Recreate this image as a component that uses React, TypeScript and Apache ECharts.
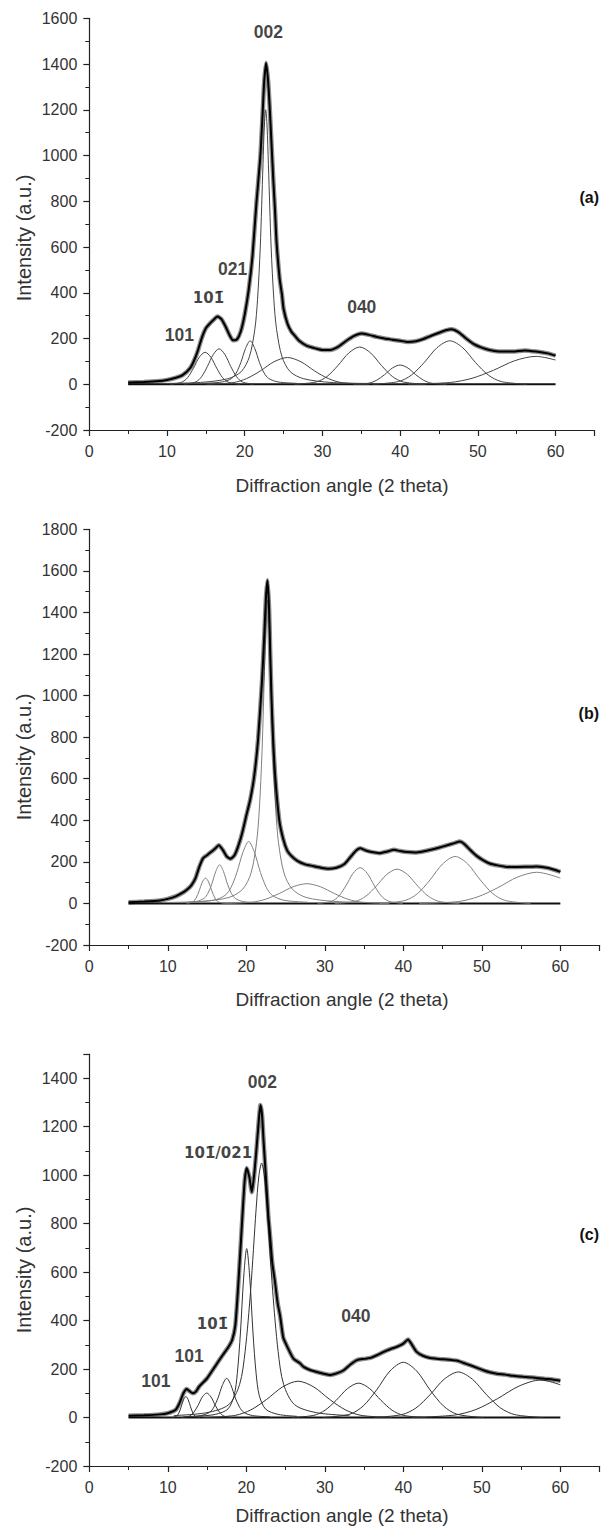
import React, { useEffect, useRef } from "react";
import * as echarts from "echarts";

type P = [number, number];

const FONT = "'Liberation Sans', Arial, Helvetica, sans-serif";
const MARK_FONT = "'DejaVu Sans', 'Liberation Sans', sans-serif";

// ---------- axes ----------
const X_MIN = 0;
const X_MAX = 65;
const X_STEP = 10;
const Y_MIN = -200;
const Y_STEP = 200;
const Y_MAX = [1600, 1800, 1500];
const X_TITLE = "Diffraction angle (2 theta)";
const Y_TITLE = "Intensity (a.u.)";
const PANEL_TAGS = ["(a)", "(b)", "(c)"];

// ---------- panel (a) ----------
const obsA: P[] = [[5,8],[7,10],[9,14],[10,19],[11,27],[12,40],[13,72],[13.5,105],[14,150],[14.5,205],[15,245],[15.5,265],[16,282],[16.5,296],[17,285],[17.5,255],[18,218],[18.5,192],[19,196],[19.5,232],[20,305],[20.5,410],[21,560],[21.5,790],[22,990],[22.3,1180],[22.5,1320],[22.75,1405],[23,1330],[23.2,1220],[23.45,1050],[23.7,880],[23.9,760],[24.1,620],[24.5,460],[24.8,390],[25,330],[25.5,265],[26,230],[26.5,210],[27,190],[28,168],[29,158],[30,150],[31,150],[32,163],[33,188],[34,210],[35,222],[36,216],[37,207],[38,200],[39,195],[40,190],[41,185],[42,188],[43,198],[44,212],[45,225],[46,237],[46.6,240],[47.5,228],[48.5,200],[49.5,175],[50.5,160],[51.5,150],[53,143],[54.5,143],[56,148],[57.5,143],[59,135],[60,125]];
const peaksA: P[][] = [
  [[10.4,0],[11.9,9],[12.65,29],[13.4,70],[14.15,118],[14.9,140],[15.65,118],[16.4,70],[17.15,29],[17.9,9],[19.4,0]],
  [[12.2,0],[13.7,10],[14.45,33],[15.2,78],[15.95,130],[16.7,155],[17.45,130],[18.2,78],[18.95,33],[19.7,10],[21.2,0]],
  [[14.7,4],[17.1,10],[18.3,25],[18.9,49],[19.5,95],[20.1,156],[20.7,190],[21.3,156],[21.9,95],[22.5,49],[23.1,25],[24.3,10],[26.7,4]],
  [[8.7,3],[14.3,8],[17.8,24],[19.55,55],[20.6,120],[21.3,240],[21.65,370],[22.0,600],[22.35,960],[22.525,1129],[22.7,1200],[22.875,1129],[23.05,960],[23.4,600],[23.75,370],[24.1,240],[24.8,120],[25.85,55],[27.6,24],[31.1,8],[36.7,3]],
  [[15,0],[18.5,7],[20.25,25],[22,58],[23.75,98],[25.5,117],[27.25,98],[29,58],[30.75,25],[32.5,7],[36,0]],
  [[26.4,0],[29.2,10],[30.6,34],[32,82],[33.4,137],[34.8,163],[36.2,137],[37.6,82],[39,34],[40.4,10],[43.2,0]],
  [[34,0],[36,5],[37,18],[38,42],[39,71],[40,84],[41,71],[42,42],[43,18],[44,5],[46,0]],
  [[36.5,0],[39.8,12],[41.45,40],[43.1,95],[44.75,160],[46.4,190],[48.05,160],[49.7,95],[51.35,40],[53,12],[56.3,0]],
  [[41,0],[46.5,8],[49.25,26],[52,61],[54.75,103],[57.5,122],[60,106]],
];
const baseA: P[] = [[5,0],[60,0]];
const labelsA = [
  { t: "002", x: 23.04, y: 1539 },
  { t: "021", x: 18.43, y: 505 },
  { t: "101\u0304", x: 15.34, y: 379 },
  { t: "101", x: 11.58, y: 214 },
  { t: "040", x: 35.06, y: 338 },
];

// ---------- panel (b) ----------
const obsB: P[] = [[5,6],[7,9],[9,14],[10,22],[11,34],[12,54],[12.5,68],[13,87],[13.5,119],[14,175],[14.5,218],[15,232],[15.5,247],[16,263],[16.5,280],[17,258],[17.5,226],[18,215],[18.5,232],[19,279],[19.5,343],[20,423],[20.5,500],[21,610],[21.5,790],[22,1070],[22.3,1300],[22.5,1470],[22.7,1555],[22.9,1420],[23.05,1200],[23.2,1000],[23.4,800],[23.7,600],[24.2,400],[24.7,310],[25.2,255],[25.7,230],[26.5,205],[27.5,188],[28.5,180],[29.5,172],[30.5,167],[31.5,172],[32.5,190],[33.3,225],[34,255],[34.5,265],[35.2,255],[36,247],[37,242],[38,250],[38.8,258],[39.6,252],[40.5,247],[41.5,245],[42.5,250],[43.5,258],[44.5,268],[45.5,279],[46.5,290],[47.2,298],[47.8,285],[48.5,258],[49.3,230],[50.2,207],[51,192],[52,183],[53,177],[54,175],[55.5,176],[57,178],[58.5,170],[60,152]];
const peaksB: P[][] = [
  [[12.4,0],[13.2,8],[13.6,26],[14,61],[14.4,103],[14.8,122],[15.2,103],[15.6,61],[16,26],[16.4,8],[17.2,0]],
  [[11.6,4],[13.6,9],[14.6,24],[15.1,48],[15.6,93],[16.1,153],[16.6,186],[17.1,153],[17.6,93],[18.1,48],[18.6,24],[19.6,9],[21.6,4]],
  [[12.8,6],[15.8,15],[17.3,39],[18.05,77],[18.8,149],[19.55,244],[20.3,298],[21.05,244],[21.8,149],[22.55,77],[23.3,39],[24.8,15],[27.8,6]],
  [[8.7,4],[14.3,10],[17.8,29],[19.55,69],[20.6,146],[21.3,292],[21.65,449],[22.0,730],[22.35,1168],[22.525,1374],[22.7,1460],[22.875,1374],[23.05,1168],[23.4,730],[23.75,449],[24.1,292],[24.8,146],[25.85,69],[27.6,29],[31.1,10],[36.7,4]],
  [[17.2,0],[20.7,6],[22.45,20],[24.2,48],[25.95,80],[27.7,95],[29.45,80],[31.2,48],[32.95,20],[34.7,6],[38.2,0]],
  [[29.1,0],[30.9,11],[31.8,36],[32.7,86],[33.6,145],[34.5,172],[35.4,145],[36.3,86],[37.2,36],[38.1,11],[39.9,0]],
  [[31.25,0],[33.9,10],[35.225,35],[36.55,83],[37.875,139],[39.2,165],[40.525,139],[41.85,83],[43.175,35],[44.5,10],[47.15,0]],
  [[37,0],[40.2,14],[41.8,47],[43.4,113],[45,190],[46.6,226],[48.2,190],[49.8,113],[51.4,47],[53,14],[56.2,0]],
  [[42,0],[47,9],[49.5,32],[52,75],[54.5,126],[57,150],[60,122]],
];
const baseB: P[] = [[5,0],[60,0]];
const labelsB: { t: string; x: number; y: number }[] = [];

// ---------- panel (c) ----------
const obsC: P[] = [[5,7],[7,9],[9,13],[10,18],[11,32],[11.5,60],[12,101],[12.4,118],[12.8,108],[13.2,100],[13.6,108],[14,128],[15,162],[16,210],[17,258],[17.7,290],[18.2,320],[18.6,380],[19,560],[19.5,830],[19.8,980],[20.05,1030],[20.4,990],[20.7,930],[21,1000],[21.3,1110],[21.6,1230],[21.8,1290],[22.0,1250],[22.2,1140],[22.4,1040],[22.8,833],[23.0,760],[23.3,640],[23.65,560],[24,470],[24.3,420],[24.7,330],[25.1,300],[26,243],[26.8,225],[27.3,209],[28.2,195],[29,188],[30,180],[30.7,176],[31.5,182],[32.4,195],[33.3,220],[34.1,237],[35,242],[35.8,246],[36.7,258],[37.5,271],[38.4,283],[39.2,292],[40,305],[40.6,322],[41.1,300],[41.7,271],[42.5,255],[43.4,246],[44.2,243],[45.1,240],[46,238],[46.8,235],[47.7,225],[48.5,216],[49.4,205],[50.2,195],[51,187],[51.9,181],[53,177],[54,172],[55.3,168],[56.5,165],[58,160],[59,157],[60,152]];
const peaksC: P[][] = [
  [[10.5,0],[11.1,5],[11.4,18],[11.7,44],[12,73],[12.3,87],[12.6,73],[12.9,44],[13.2,18],[13.5,5],[14.1,0]],
  [[11.65,0],[12.75,6],[13.3,21],[13.85,50],[14.4,85],[14.95,101],[15.5,85],[16.05,50],[16.6,21],[17.15,6],[18.25,0]],
  [[12,3],[14.2,8],[15.3,21],[15.85,42],[16.4,81],[16.95,133],[17.5,162],[18.05,133],[18.6,81],[19.15,42],[19.7,21],[20.8,8],[23,3]],
  [[13.65,5],[16.05,13],[17.65,35],[18.45,91],[18.85,181],[19.25,349],[19.65,572],[20.05,697],[20.45,572],[20.85,349],[21.25,181],[21.65,91],[22.45,35],[24.05,13],[26.45,5]],
  [[10.75,8],[14.95,20],[17.75,53],[19.15,137],[19.85,273],[20.55,525],[21.25,861],[21.6,997],[21.95,1050],[22.3,997],[22.65,861],[23.35,525],[24.05,273],[24.75,137],[26.15,53],[28.95,20],[33.15,8]],
  [[14.6,0],[18.6,9],[20.6,32],[22.6,75],[24.6,126],[26.6,150],[28.6,126],[30.6,75],[32.6,32],[34.6,9],[38.6,0]],
  [[25.75,0],[28.6,9],[30.025,30],[31.45,71],[32.875,119],[34.3,142],[35.725,119],[37.15,71],[38.575,30],[40,9],[42.85,0]],
  [[29.8,0],[33.2,14],[34.9,48],[36.6,114],[38.3,192],[40,228],[41.7,192],[43.4,114],[45.1,48],[46.8,14],[50.2,0]],
  [[36.2,0],[39.8,12],[41.6,39],[43.4,94],[45.2,158],[47,188],[48.8,158],[50.6,94],[52.4,39],[54.2,12],[57.8,0]],
  [[41,0],[46.5,10],[49.25,33],[52,78],[54.75,130],[57.5,155],[60,135]],
];
const baseC: P[] = [[5,0],[60,0]];
const labelsC = [
  { t: "002", x: 22.04, y: 1385 },
  { t: "101\u0304/021", x: 16.4, y: 1093 },
  { t: "101\u0304", x: 15.69, y: 386 },
  { t: "101", x: 12.72, y: 254 },
  { t: "101", x: 8.48, y: 151 },
  { t: "040", x: 33.96, y: 417 },
];

const OBS = [obsA, obsB, obsC];
const PEAKS = [peaksA, peaksB, peaksC];
const BASES = [baseA, baseB, baseC];
const LABELS = [labelsA, labelsB, labelsC];

// ---------- layout ----------
const GRIDS = [
  { left: 89.3, top: 18.3, width: 505.1, height: 411.7 },
  { left: 89.3, top: 529.3, width: 510.3, height: 415.7 },
  { left: 89.3, top: 1054, width: 510.3, height: 412 },
];
const PEAK_COLORS = ["#444", "#808080", "#333"];
const Y_TITLE_POS = [238, 757, 1270];
const X_TITLE_POS = [485, 999, 1515];
const TAG_POS = [197, 713, 1234];

export default function App() {
  const ref = useRef<HTMLDivElement>(null);
  useEffect(() => {
    if (!ref.current) return;
    const chart = echarts.init(ref.current, null, { renderer: "svg" });
    const axisColor = "#222";
    const fmt = (v: number) => String(v);
    const xAxis = GRIDS.map((_, i) => ({
      type: "value",
      gridIndex: i,
      min: X_MIN,
      max: X_MAX,
      interval: X_STEP,
      axisLine: { show: true, onZero: false, lineStyle: { color: axisColor, width: 1.2 } },
      axisTick: { show: true, length: 6, lineStyle: { color: axisColor, width: 1.2 } },
      minorTick: { show: true, splitNumber: 2, length: 4, lineStyle: { color: axisColor, width: 1 } },
      splitLine: { show: false },
      minorSplitLine: { show: false },
      axisLabel: { color: "#333", fontSize: 16, fontFamily: FONT, margin: 13, showMaxLabel: false, formatter: fmt },
    }));
    const yAxis = GRIDS.map((_, i) => ({
      type: "value",
      gridIndex: i,
      min: Y_MIN,
      max: Y_MAX[i],
      interval: Y_STEP,
      axisLine: { show: true, onZero: false, lineStyle: { color: axisColor, width: 1.2 } },
      axisTick: { show: true, length: 6, lineStyle: { color: axisColor, width: 1.2 } },
      minorTick: { show: true, splitNumber: 2, length: 4, lineStyle: { color: axisColor, width: 1 } },
      splitLine: { show: false },
      minorSplitLine: { show: false },
      axisLabel: { color: "#333", fontSize: 16, fontFamily: FONT, margin: 12, showMaxLabel: i !== 2, formatter: fmt },
    }));

    const series: any[] = [];
    GRIDS.forEach((_, i) => {
      const common = { xAxisIndex: i, yAxisIndex: i, showSymbol: false, symbol: "none", silent: true };
      series.push({ ...common, type: "line", data: BASES[i], lineStyle: { color: "#111", width: 2 }, z: 2 });
      PEAKS[i].forEach((pk) => {
        series.push({ ...common, type: "line", data: pk, smooth: 0.3, lineStyle: { color: PEAK_COLORS[i], width: 1 }, z: 3 });
      });
      series.push({ ...common, type: "line", data: OBS[i], smooth: 0.2, lineStyle: { color: "rgba(0,0,0,0.45)", width: 4.5 }, z: 4 });
      series.push({ ...common, type: "line", data: OBS[i], smooth: 0.2, lineStyle: { color: "#000", width: 2 }, z: 5 });
      if (LABELS[i].length) {
        series.push({
          type: "scatter",
          xAxisIndex: i,
          yAxisIndex: i,
          silent: true,
          symbolSize: 1,
          itemStyle: { color: "rgba(0,0,0,0)" },
          label: {
            show: true,
            position: "inside",
            formatter: "{b}",
            color: "#111",
            fontWeight: "bold",
            fontSize: 17.5,
            fontFamily: FONT,
          },
          data: LABELS[i].map((l) => {
            const hasMark = l.t.indexOf("\u0304") >= 0;
            return hasMark
              ? { name: l.t, value: [l.x, l.y], label: { fontFamily: MARK_FONT, fontSize: 15 } }
              : { name: l.t, value: [l.x, l.y] };
          }),
          z: 10,
        });
      }
    });

    const graphic: any[] = [];
    GRIDS.forEach((_, i) => {
      graphic.push({
        type: "text",
        x: 24,
        y: Y_TITLE_POS[i],
        rotation: Math.PI / 2,
        style: { text: Y_TITLE, fontSize: 20, fontFamily: FONT, fill: "#333", textAlign: "center", textVerticalAlign: "middle", align: "center", verticalAlign: "middle" },
      });
      graphic.push({
        type: "text",
        x: 342,
        y: X_TITLE_POS[i],
        style: { text: X_TITLE, fontSize: 19, fontFamily: FONT, fill: "#333", textAlign: "center", textVerticalAlign: "middle", align: "center", verticalAlign: "middle" },
      });
      graphic.push({
        type: "text",
        x: 599,
        y: TAG_POS[i],
        style: { text: PANEL_TAGS[i], fontSize: 16, fontWeight: "bold", fontFamily: FONT, fill: "#111", textAlign: "right", textVerticalAlign: "middle", align: "right", verticalAlign: "middle" },
      });
    });

    chart.setOption({
      animation: false,
      backgroundColor: "#fff",
      grid: GRIDS.map((g) => ({ ...g, containLabel: false })),
      xAxis,
      yAxis,
      series,
      graphic,
    });
    return () => chart.dispose();
  }, []);
  return (
    <div
      ref={ref}
      style={{ position: "absolute", left: 0, top: 0, width: 601, height: 1532, background: "#fff" }}
    />
  );
}
